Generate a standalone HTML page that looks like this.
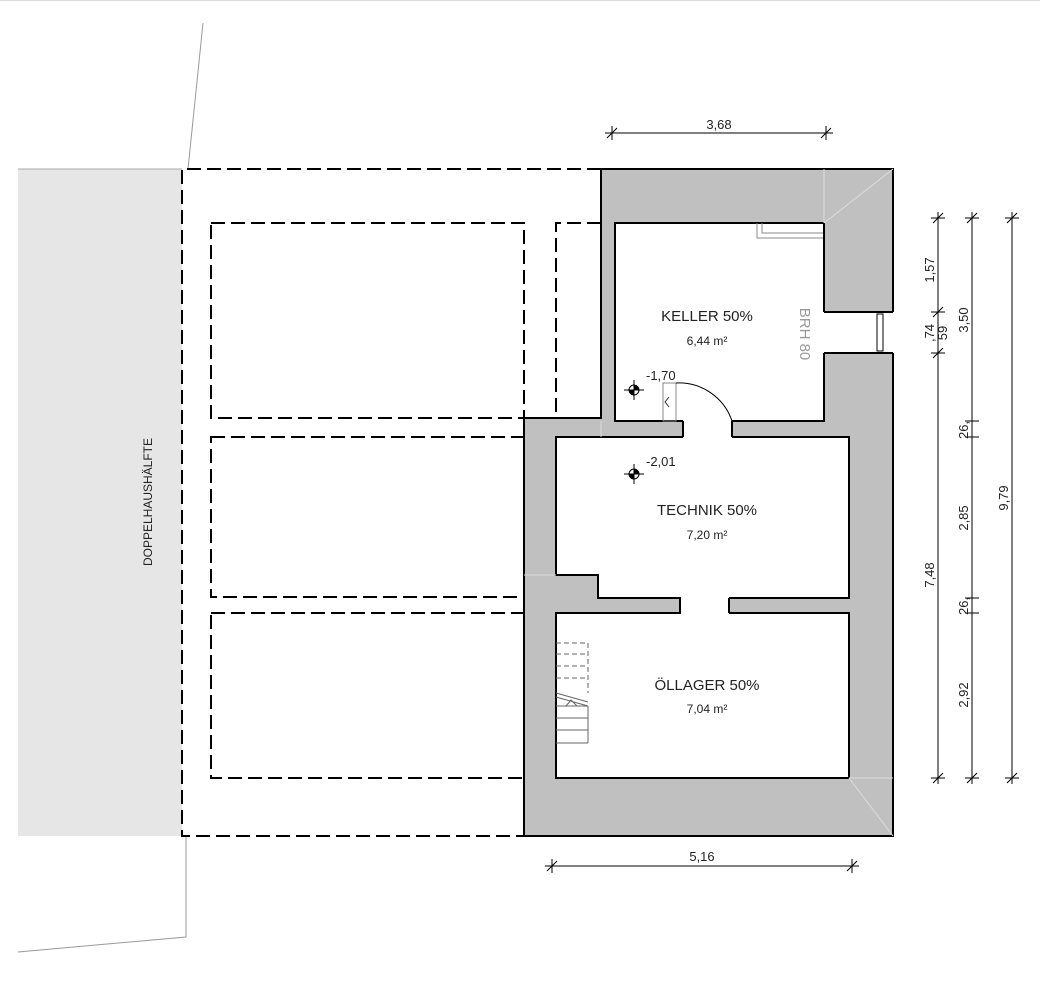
<!DOCTYPE html>
<html><head><meta charset="utf-8"><style>
html,body{margin:0;padding:0;background:#fff}
svg{display:block}
text{font-family:"Liberation Sans",sans-serif;fill:#222}
</style></head><body>
<svg width="1040" height="1004" viewBox="0 0 1040 1004" xmlns="http://www.w3.org/2000/svg">
<line x1="0" y1="0.5" x2="1040" y2="0.5" stroke="#ddd"/>
<!-- neighbor -->
<rect x="18" y="169" width="164" height="667" fill="#e6e6e6"/>
<line x1="18" y1="169" x2="182" y2="169" stroke="#aaa"/>
<polyline points="203,23 188,169" fill="none" stroke="#999"/>
<polyline points="186,836 186,937 18,952" fill="none" stroke="#999"/>
<text transform="translate(152,502) rotate(-90)" font-size="12" text-anchor="middle">DOPPELHAUSHÄLFTE</text>
<!-- dashed -->
<g fill="none" stroke="#000" stroke-width="2" stroke-dasharray="14,6">
<path d="M601,169 H182 V836 H524"/>
<rect x="211" y="223" width="313" height="195"/>
<path d="M601,223 H556 V418 H601"/>
<rect x="211" y="437" width="313" height="160"/>
<rect x="211" y="613" width="313" height="165"/>
</g>
<!-- building walls -->
<path d="M601,169 H893 V836 H524 V418 H601 Z" fill="#c0c0c0" stroke="#000" stroke-width="2"/>
<g fill="#fff" stroke="#000" stroke-width="2">
<rect x="615" y="223" width="209" height="198"/>
<path d="M556,437 H849 V598 H729 V613 H849 V778 H556 V613 H680 V598 H598 V575 H556 Z"/>
<rect x="683" y="418" width="49" height="22" stroke="none"/>
<rect x="681" y="596" width="48" height="19" stroke="none"/>
<rect x="823" y="312" width="72" height="41" stroke-width="0"/>
</g>
<g stroke="#000" stroke-width="2" fill="none">
<path d="M824,312 H893 M824,353 H893"/>
<path d="M683,421 V437 M732,421 V437 M680,598 V613 M729,598 V613"/>
</g>
<rect x="877" y="314" width="6" height="37" fill="#fff" stroke="#000"/>
<!-- faint lines -->
<g stroke="#ddd" stroke-width="1">
<line x1="824" y1="223" x2="893" y2="169"/><line x1="824" y1="169" x2="824" y2="223"/>
<line x1="849" y1="778" x2="893" y2="836"/><line x1="849" y1="778" x2="893" y2="778"/>
<line x1="601" y1="421" x2="601" y2="437"/><line x1="524" y1="575" x2="556" y2="575"/>
</g>
<!-- keller details -->
<path d="M757,223 V238 H823 M762,223 V233 H823" fill="none" stroke="#888"/>
<rect x="663" y="383" width="13" height="38" fill="none" stroke="#888"/>
<path d="M669,397 L665,402 L669,407" fill="none" stroke="#333"/>
<path d="M676,383 A56,56 0 0 1 732,421" fill="none" stroke="#000"/>
<!-- stairs -->
<g stroke="#666" fill="none">
<path d="M556,643 H588 V693" stroke-dasharray="5,3"/>
<path d="M556,654 H588 M556,666 H588 M556,678 H588" stroke-dasharray="5,3"/>
<path d="M556,693 L588,702"/><path d="M556,697 L588,706"/>
<path d="M556,706 H588 M556,718 H588 M556,730 H588 M556,743 H588 M588,706 V743"/>
<path d="M566,706 L571,700 L577,706"/>
</g>
<!-- level markers -->
<g>
<circle cx="634" cy="390" r="5" fill="#fff" stroke="#000"/>
<path d="M634,390 V385 A5,5 0 0 1 639,390 Z M634,390 V395 A5,5 0 0 1 629,390 Z" fill="#000"/>
<path d="M624,390 H644 M634,380 V400" stroke="#000"/>
<circle cx="634" cy="474" r="5" fill="#fff" stroke="#000"/>
<path d="M634,474 V469 A5,5 0 0 1 639,474 Z M634,474 V479 A5,5 0 0 1 629,474 Z" fill="#000"/>
<path d="M624,474 H644 M634,464 V484" stroke="#000"/>
</g>
<text x="646" y="380" font-size="13">-1,70</text>
<text x="646" y="466" font-size="13">-2,01</text>
<text x="707" y="321" font-size="15" text-anchor="middle">KELLER 50%</text>
<text x="707" y="345" font-size="12" text-anchor="middle">6,44 m²</text>
<text transform="translate(800,334) rotate(90)" font-size="15" fill="#999" style="fill:#999" text-anchor="middle">BRH 80</text>
<text x="707" y="515" font-size="15" text-anchor="middle">TECHNIK 50%</text>
<text x="707" y="539" font-size="12" text-anchor="middle">7,20 m²</text>
<text x="707" y="690" font-size="15" text-anchor="middle">ÖLLAGER 50%</text>
<text x="707" y="713" font-size="12" text-anchor="middle">7,04 m²</text>
<!-- dimensions -->
<g stroke="#000" stroke-width="1" fill="none">
<line x1="605" y1="133" x2="833" y2="133"/>
<path d="M612,126 V140 M826,126 V140 M607,138 L617,128 M821,138 L831,128"/>
<line x1="545" y1="866" x2="859" y2="866"/>
<path d="M552,859 V873 M852,859 V873 M547,871 L557,861 M847,871 L857,861"/>
<line x1="938" y1="212" x2="938" y2="784"/>
<line x1="972" y1="212" x2="972" y2="784"/>
<line x1="1012" y1="212" x2="1012" y2="784"/>
<path d="M931,218 H945 M933,223 L943,213 M931,312 H945 M933,317 L943,307 M931,353 H945 M933,358 L943,348 M931,778 H945 M933,783 L943,773"/>
<path d="M965,218 H979 M967,223 L977,213 M965,778 H979 M967,783 L977,773"/>
<path d="M965,421 H979 M965,437 H979 M965,598 H979 M965,613 H979"/>
<path d="M1005,218 H1019 M1007,223 L1017,213 M1005,778 H1019 M1007,783 L1017,773"/>
</g>
<g font-size="13">
<text x="719" y="129" text-anchor="middle">3,68</text>
<text x="702" y="861" text-anchor="middle">5,16</text>
<text transform="translate(934,270) rotate(-90)" text-anchor="middle">1,57</text>
<text transform="translate(934,333) rotate(-90)" text-anchor="middle">,74</text>
<text transform="translate(947,333) rotate(-90)" text-anchor="middle">59</text>
<text transform="translate(934,575) rotate(-90)" text-anchor="middle">7,48</text>
<text transform="translate(968,320) rotate(-90)" text-anchor="middle">3,50</text>
<text transform="translate(968,430) rotate(-90)" text-anchor="middle">26,</text>
<text transform="translate(968,518) rotate(-90)" text-anchor="middle">2,85</text>
<text transform="translate(968,606) rotate(-90)" text-anchor="middle">26,</text>
<text transform="translate(968,695) rotate(-90)" text-anchor="middle">2,92</text>
<text transform="translate(1008,498) rotate(-90)" text-anchor="middle">9,79</text>
</g>
</svg>
</body></html>
